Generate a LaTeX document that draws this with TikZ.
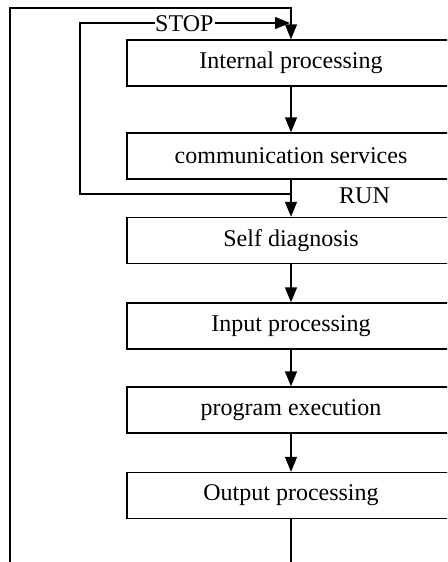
\documentclass[tikz,border=0pt]{standalone}
\usepackage{fontspec}
\setmainfont{Liberation Serif}
\usetikzlibrary{arrows.meta}
\begin{document}
\begin{tikzpicture}[x=1pt,y=-1pt,
  stepbox/.style={draw, line width=1.4pt, minimum width=328pt, minimum height=46pt, inner sep=0pt, font=\fontsize{24}{26}\selectfont},
  conn/.style={line width=1.4pt},
  arr/.style={conn, -{Triangle[length=15pt,width=12pt]}},
  lbl/.style={font=\fontsize{24}{26}\selectfont, inner sep=1pt}]
\useasboundingbox (0,0) rectangle (447,562);
\clip (0,0) rectangle (447,562);
\node[stepbox] (b1) at (291,63) {Internal processing};
\node[stepbox] (b2) at (291,156) {communication services};
\node[stepbox] (b3) at (291,240.5) {Self diagnosis};
\node[stepbox] (b4) at (291,326) {Input processing};
\node[stepbox] (b5) at (291,410) {program execution};
\node[stepbox] (b6) at (291,495.5) {Output processing};
\coordinate (bot) at (291,563);
\coordinate (obot) at (10,563);
\coordinate (run) at (291,194);
% main chain
\draw[arr] (b1) -- (b2);
\draw[conn] (b2) -- (run);
\draw[arr] (run) -- (b3);
\draw[arr] (b3) -- (b4);
\draw[arr] (b4) -- (b5);
\draw[arr] (b5) -- (b6);
\draw[conn] (b6) -- (bot);
% outer loop
\draw[arr] (obot) |- (291,8) -- (b1.north);
% STOP loop
\draw[conn] (run) -| (80,23) -- (155,23);
\node[lbl, anchor=west] (stop) at (154,24) {STOP};
\draw[arr] (stop.east) ++(0,-1) -- (290,23);
\node[lbl, anchor=west] (runl) at (338,196) {RUN};
\end{tikzpicture}
\end{document}
